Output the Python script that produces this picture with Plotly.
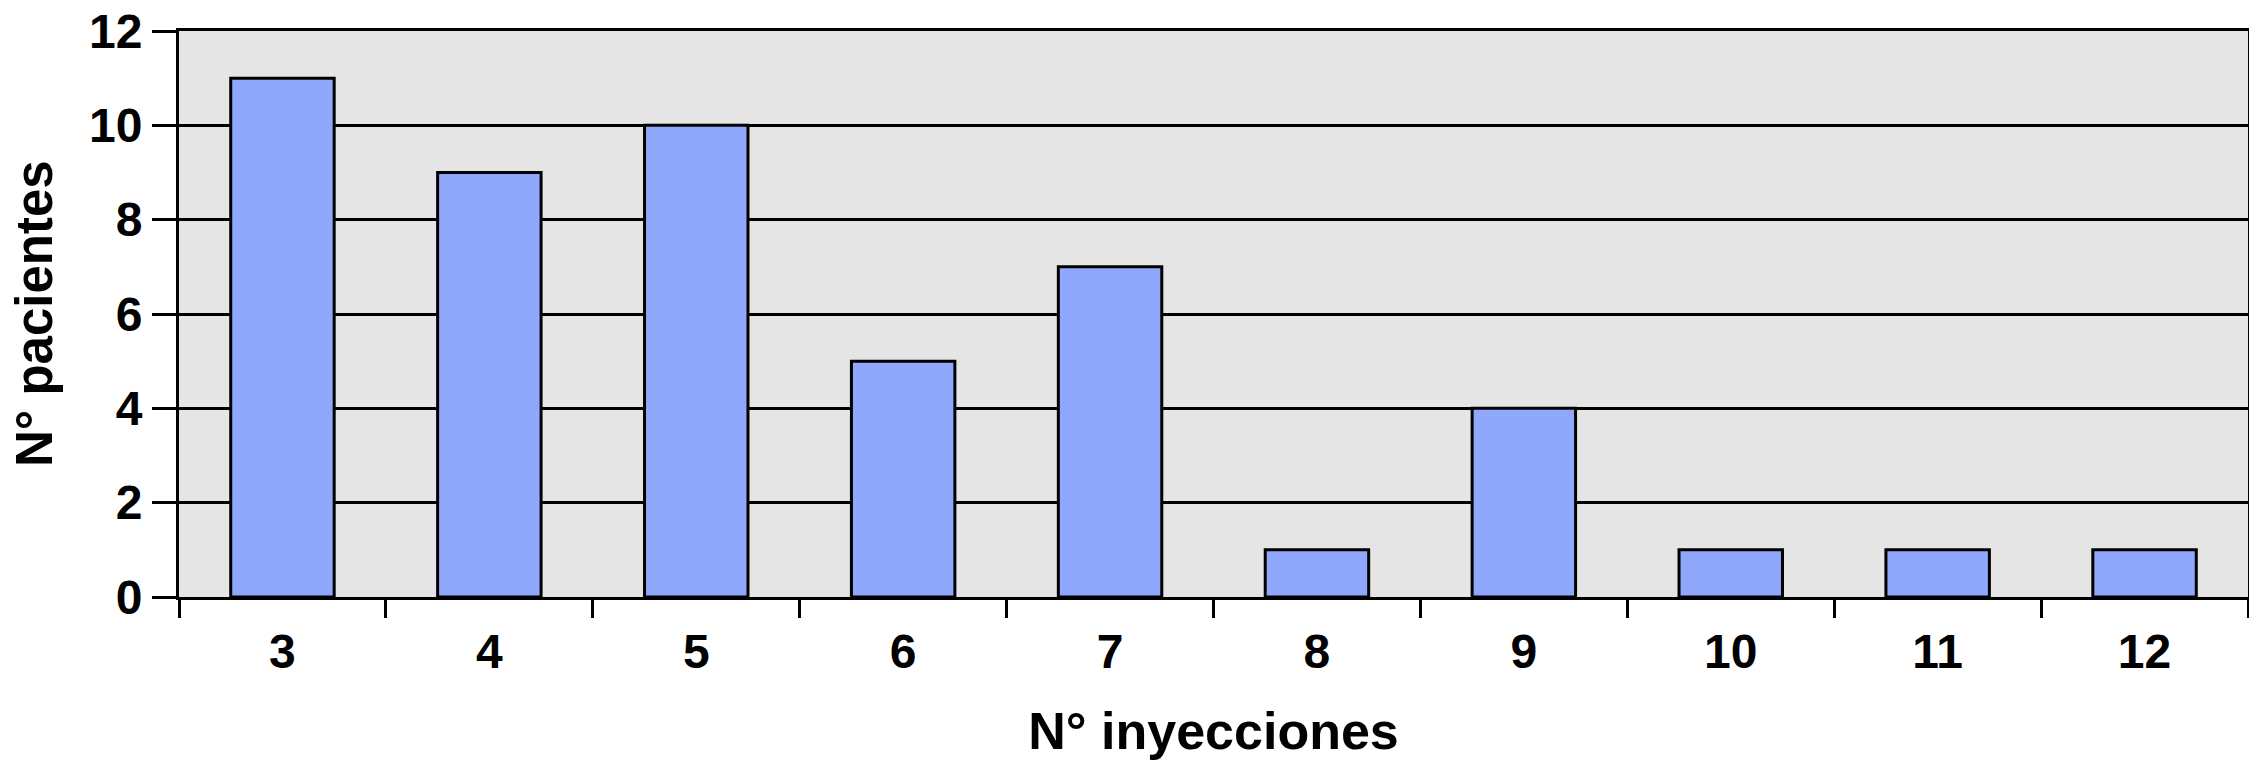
import plotly.graph_objects as go

categories = [3, 4, 5, 6, 7, 8, 9, 10, 11, 12]
pacientes = [11, 9, 10, 5, 7, 1, 4, 1, 1, 1]
y_ticks = [0, 2, 4, 6, 8, 10, 12]

FONT = "Liberation Sans, Arial, sans-serif"

fig = go.Figure(
    go.Bar(
        x=[str(c) for c in categories],
        y=pacientes,
        width=0.5,
        marker=dict(color="#8FA8FC", line=dict(color="black", width=3)),
    )
)

# page body has an 8px default margin; compensate in the figure margins
fig.update_layout(
    width=2257,
    height=764,
    margin=dict(l=171, r=17, t=23, b=175, autoexpand=False),
    paper_bgcolor="white",
    plot_bgcolor="#E5E5E5",
    showlegend=False,
    font=dict(family=FONT, color="black", size=48),
    annotations=[
        dict(
            text="<b>N° pacientes</b>",
            xref="paper", yref="paper",
            x=0, y=0.5,
            xanchor="center", yanchor="middle",
            xshift=-145,
            textangle=-90,
            showarrow=False,
            font=dict(family=FONT, size=51, color="black"),
        )
    ],
)

fig.update_xaxes(
    type="category",
    tickson="boundaries",
    ticks="outside",
    ticklen=18,
    tickwidth=3,
    tickcolor="black",
    showline=True,
    linecolor="black",
    linewidth=3,
    mirror=True,
    showgrid=False,
    automargin=False,
    tickfont=dict(family=FONT, size=48, color="black", weight="bold"),
    ticklabelstandoff=10,
    title=dict(text="<b>N° inyecciones</b>", font=dict(family=FONT, size=52), standoff=37),
)

fig.update_yaxes(
    range=[0, 12],
    tickvals=y_ticks,
    ticks="outside",
    ticklen=24,
    tickwidth=3,
    tickcolor="black",
    showline=True,
    linecolor="black",
    linewidth=3,
    mirror=True,
    showgrid=True,
    gridcolor="black",
    gridwidth=3,
    zeroline=False,
    automargin=False,
    ticklabeloverflow="allow",
    tickfont=dict(family=FONT, size=48, color="black", weight="bold"),
)

fig.write_html("out.html")
